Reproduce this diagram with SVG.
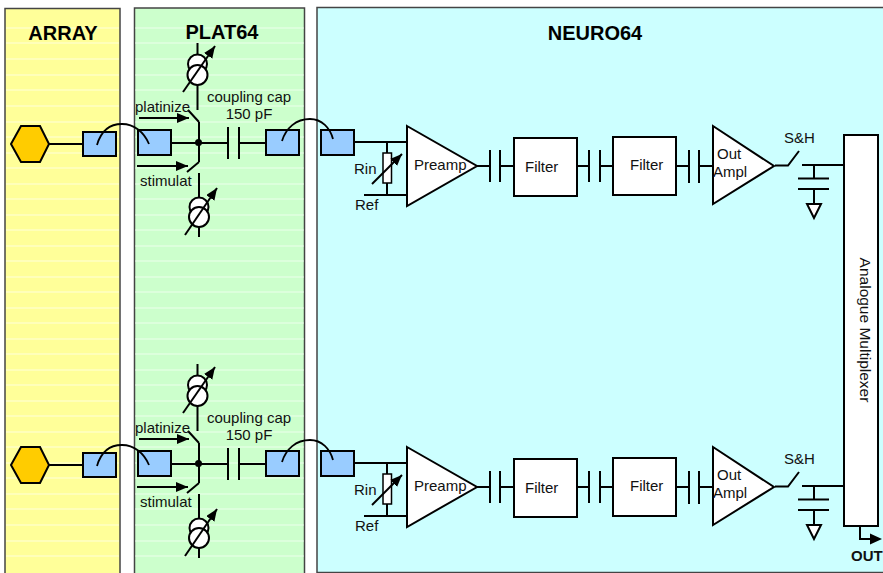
<svg xmlns="http://www.w3.org/2000/svg" width="883" height="573" viewBox="0 0 883 573">
<style>
text{font-family:"Liberation Sans",Arial,sans-serif;font-size:15px;fill:#111}
.h{font-size:20px;font-weight:bold;fill:#000}
.l{fill:none;stroke:#000;stroke-width:2}
.t{fill:none;stroke:#000;stroke-width:1.8}
.b{fill:#99ccff;stroke:#000;stroke-width:2}
.w{fill:#fff;stroke:#000;stroke-width:2}
.s{stroke:#fff;stroke-width:1;opacity:.65}
.p{stroke:#444;stroke-width:1.5}
</style>
<defs>
<marker id="ah" markerWidth="14" markerHeight="12" refX="12" refY="5" orient="auto" markerUnits="userSpaceOnUse"><path d="M0,0L12,5L0,10Z" fill="#000"/></marker>
<g id="ch1">
<path class="l" d="M49,144H83M172,143H228M239,143H266M199,122V162M188,110L199,122M187,172L199,162"/>
<path class="l" d="M228,127V159M239,127V159"/>
<circle cx="198.500" cy="142.500" r="3.500" fill="#000"/>
<polygon points="11,144 21,126 40,126 49,144 40,162 21,162" fill="#ffcc00" stroke="#000" stroke-width="2"/>
<rect x="83" y="132" width="33" height="24" class="b"/>
<rect x="138" y="130" width="33" height="25" class="b"/>
<rect x="266" y="130" width="33" height="25" class="b"/>
<rect x="321" y="130" width="33" height="25" class="b"/>
<path class="t" d="M97,145C101,131 110,124 122,124C134,124 144,132 149,144"/>
<path class="t" d="M282,141C286,128 296,119 310,119C322,119 330,128 333,139"/>
<path class="l" d="M139,118H189" marker-end="url(#ah)"/>
<path class="l" d="M137,166H188" marker-end="url(#ah)"/>
<path class="l" d="M197.500,43V55M197.500,85V110"/>
<circle cx="197.500" cy="64" r="9.500" class="w"/><circle cx="197.500" cy="75" r="10" class="w"/>
<path class="l" d="M183,92L215,46" marker-end="url(#ah)"/>
<path class="l" d="M199,173V198M199,227V237"/>
<circle cx="199" cy="207" r="9.500" class="w"/><circle cx="199" cy="217" r="10" class="w"/>
<path class="l" d="M185,235L217,188" marker-end="url(#ah)"/>
<text x="135" y="112">platinize</text>
<text x="140" y="186">stimulat</text>
<text x="249" y="102" text-anchor="middle">coupling cap</text>
<text x="249" y="119" text-anchor="middle">150 pF</text>
<path class="l" d="M354,142H407M364,195H407M387,142V160M387,183V195M477,166H490M500,166H514M490,150V182M500,150V182M577,166H589M600,166H613M589,150V182M600,150V182M676,166H689M699,166H713M689,150V183M699,150V183M775,165.500H788L799,151M802,165H843M814,165V178M798,178.500H829M798,189H829M814,189V204"/>
<rect x="383" y="153" width="8.500" height="30" fill="#fff" stroke="#000" stroke-width="1.500"/>
<path class="l" d="M372,184L402,154" marker-end="url(#ah)"/>
<polygon points="407,126 477,166 407,206" class="w"/>
<rect x="514" y="138" width="63" height="58" class="w"/>
<rect x="613" y="137" width="63" height="58" class="w"/>
<polygon points="713,126 774,166 713,204" class="w"/>
<polygon points="807,204 821,204 814,218" class="w"/>
<text x="414" y="170">Preamp</text>
<text x="525" y="172">Filter</text>
<text x="630" y="170">Filter</text>
<text x="717" y="159">Out</text>
<text x="713" y="177">Ampl</text>
<text x="354" y="174">Rin</text>
<text x="355" y="210">Ref</text>
<text x="784" y="143">S&amp;H</text>
</g>
</defs>
<rect width="883" height="573" fill="#fff"/>
<g id="panel-array">
<rect x="5" y="8.500" width="115" height="566" fill="#ffff99" class="p"/>
<path class="s" d="M6,28H119M6,43H119M6,59H119M6,75H119M6,90H119M6,106H119M6,122H119M6,137H119M6,153H119M6,168H119M6,184H119M6,199H119M6,215H119M6,230H119M6,246H119M6,261H119M6,277H119M6,292H119M6,308H119M6,323H119M6,339H119M6,354H119M6,370H119M6,385H119M6,401H119M6,416H119M6,432H119M6,447H119M6,463H119M6,478H119M6,494H119M6,509H119M6,525H119M6,541H119M6,556H119"/>
<text class="h" x="63" y="40" text-anchor="middle">ARRAY</text>
</g>
<g id="panel-plat64">
<rect x="134.500" y="8" width="170" height="566" fill="#ccffcc" class="p"/>
<path class="s" d="M135,28H304M135,43H304M135,59H304M135,75H304M135,90H304M135,106H304M135,122H304M135,137H304M135,153H304M135,168H304M135,184H304M135,199H304M135,215H304M135,230H304M135,246H304M135,261H304M135,277H304M135,292H304M135,308H304M135,323H304M135,339H304M135,354H304M135,370H304M135,385H304M135,401H304M135,416H304M135,432H304M135,447H304M135,463H304M135,478H304M135,494H304M135,509H304M135,525H304M135,541H304M135,556H304"/>
<text class="h" x="222" y="39" text-anchor="middle">PLAT64</text>
</g>
<g id="panel-neuro64">
<rect x="317" y="7.500" width="570" height="565" fill="#ccffff" class="p"/>
<text class="h" x="595" y="40" text-anchor="middle">NEURO64</text>
</g>
<g id="channel-1"><use href="#ch1"/></g>
<g id="channel-2"><use href="#ch1" y="321"/></g>
<g id="multiplexer">
<rect x="844" y="135" width="34" height="391" class="w"/>
<text x="860" y="330" text-anchor="middle" transform="rotate(90 860 330)" style="font-size:15.500px">Analogue Multiplexer</text>
</g>
<g id="connectors">
<path class="l" d="M860,526V539H871"/>
<polygon points="870,533.500 882,539 870,544.500" fill="#000"/>
<text x="851" y="561" style="font-weight:bold">OUT</text>
</g>
</svg>
